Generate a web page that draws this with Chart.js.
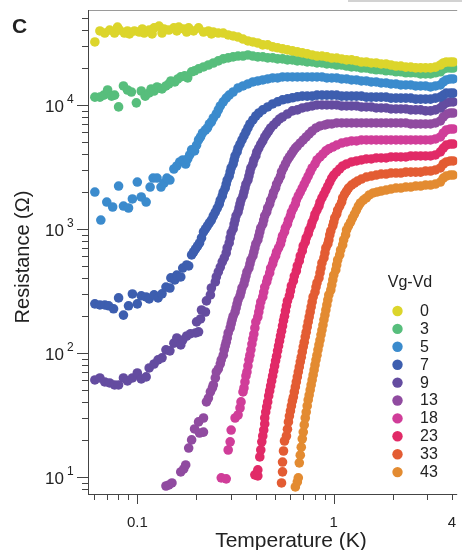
<!DOCTYPE html>
<html>
<head>
<meta charset="utf-8">
<title>Resistance vs Temperature</title>
<script src="https://cdn.jsdelivr.net/npm/chart.js@4.4.0/dist/chart.umd.min.js"></script>
<style>
  html, body { margin: 0; padding: 0; background: #fff; }
  #wrap { width: 462px; height: 550px; }
</style>
</head>
<body>
<div id="wrap"><canvas id="rtChart" width="462" height="550"></canvas></div>
<script>
// [temperature K, resistance Ohm], one list per Vg-Vd value
const s0 = [[0.0608,32200],[0.0645,39500],[0.0683,38000],[0.0723,40200],[0.0766,38000],[0.0793,42500],[0.0812,40200],[0.086,38000],[0.0891,39500],[0.0912,37400],[0.0966,39500],[0.1023,38700],[0.106,41000],[0.1084,38000],[0.1149,40200],[0.1189,37400],[0.1217,41800],[0.129,43300],[0.1336,38000],[0.1367,41000],[0.1448,40200],[0.1535,41800],[0.1589,39500],[0.1626,42500],[0.1723,41000],[0.1783,38700],[0.1826,41800],[0.1934,39500],[0.205,41800],[0.2172,38700],[0.2301,39500],[0.2385,37400],[0.2438,38700],[0.2584,38000],[0.2738,38000],[0.2901,36700],[0.3074,36000],[0.3257,35300],[0.3451,34000],[0.3657,32800],[0.3875,32200],[0.4106,31600],[0.4351,30500],[0.461,30500],[0.4885,29400],[0.5176,28900],[0.5485,28300],[0.5811,27800],[0.6158,27300],[0.6525,26800],[0.6914,26300],[0.7326,25800],[0.7762,25300],[0.8215,24800],[0.8707,24800],[0.9222,24400],[0.977,23900],[1.035,23900],[1.097,23500],[1.162,23100],[1.232,23100],[1.305,22700],[1.383,22200],[1.465,22200],[1.552,21800],[1.645,21800],[1.743,21400],[1.847,21400],[1.956,21000],[2.073,20600],[2.196,20600],[2.327,20200],[2.466,20200],[2.613,19900],[2.768,19900],[2.933,19900],[3.108,19900],[3.293,20200],[3.489,21000],[3.612,21800],[3.74,22200],[3.918,22200],[4.055,22200]];
const s3 = [[0.0608,11560],[0.0645,11560],[0.0675,12000],[0.0706,13200],[0.074,11780],[0.0766,12000],[0.0803,9640],[0.085,14230],[0.0891,13200],[0.0933,12720],[0.0989,10400],[0.1047,12960],[0.1097,11780],[0.1149,12490],[0.1176,13460],[0.1217,12960],[0.126,13970],[0.129,13700],[0.1336,13460],[0.1399,14230],[0.1448,14770],[0.1482,15610],[0.1553,15320],[0.1607,16200],[0.1664,16860],[0.1743,17180],[0.1805,16540],[0.189,18500],[0.1956,18850],[0.205,19560],[0.2172,20240],[0.2301,21000],[0.2438,21790],[0.2584,22680],[0.2738,23530],[0.2901,23970],[0.3074,24400],[0.3257,24800],[0.3451,24800],[0.3657,25300],[0.3875,24800],[0.4106,24400],[0.4351,24400],[0.461,23970],[0.4885,23970],[0.5176,23530],[0.5485,23530],[0.5811,23100],[0.6158,23100],[0.6525,22680],[0.6914,22680],[0.7326,22260],[0.7762,22260],[0.8215,21850],[0.8707,21850],[0.9222,21450],[0.977,21450],[1.035,21000],[1.097,21000],[1.162,20610],[1.232,20240],[1.305,20240],[1.383,19860],[1.465,19860],[1.552,19500],[1.645,19200],[1.743,19200],[1.847,18850],[1.956,18850],[2.073,18500],[2.196,18500],[2.327,18160],[2.466,18160],[2.613,18160],[2.768,17820],[2.933,17820],[3.108,17820],[3.293,18160],[3.489,18500],[3.612,19500],[3.74,19860],[3.918,19860],[4.055,19860]];
const s5 = [[0.0608,1985],[0.0652,1180],[0.0699,1648],[0.0749,1503],[0.0803,2218],[0.085,1531],[0.0902,1476],[0.0944,1746],[0.1,2390],[0.1047,1812],[0.1109,1648],[0.1162,2178],[0.1203,2573],[0.126,2573],[0.132,2178],[0.1367,2346],[0.1415,2573],[0.1465,2480],[0.1535,3045],[0.1589,3220],[0.1645,3469],[0.1703,3600],[0.1763,3341],[0.1805,3667],[0.1847,3950],[0.189,4340],[0.1956,4260],[0.2003,4750],[0.205,5220],[0.2098,5521],[0.2147,5946],[0.2223,6280],[0.2275,6527],[0.2328,7029],[0.2382,7295],[0.2438,7851],[0.2525,8456],[0.2584,9120],[0.2645,9816],[0.2738,10600],[0.2835,11350],[0.2935,12000],[0.3074,12720],[0.3257,13700],[0.3451,14230],[0.3657,14770],[0.3875,15320],[0.4106,15610],[0.4351,15900],[0.461,16200],[0.4885,16500],[0.5176,16500],[0.5485,16810],[0.5811,16810],[0.6158,16810],[0.6525,16810],[0.6914,16810],[0.7326,16810],[0.7762,16810],[0.8215,16810],[0.8707,16810],[0.9222,16500],[0.977,16500],[1.035,16500],[1.097,16200],[1.162,16200],[1.232,15900],[1.305,15900],[1.383,15610],[1.465,15610],[1.552,15320],[1.645,15320],[1.743,15040],[1.847,15040],[1.956,14770],[2.073,14770],[2.196,14500],[2.327,14500],[2.466,14500],[2.613,14230],[2.768,14230],[2.933,14230],[3.108,13970],[3.293,14230],[3.489,14500],[3.612,15320],[3.74,15900],[3.918,16200],[4.055,16200]];
const s7 = [[0.0608,249],[0.0645,244],[0.0683,244],[0.0715,240],[0.0757,227],[0.0803,278],[0.085,202],[0.0902,240],[0.0944,299],[0.1,249],[0.1047,289],[0.1109,283],[0.1149,273],[0.1217,294],[0.1275,278],[0.1336,300],[0.1399,340],[0.1465,334],[0.1482,403],[0.1553,388],[0.1589,425],[0.1664,410],[0.1703,484],[0.1784,512],[0.1826,503],[0.189,617],[0.1934,652],[0.1979,690],[0.2026,729],[0.2074,771],[0.2122,847],[0.2172,946],[0.2223,1000],[0.2275,1060],[0.2328,1121],[0.2382,1180],[0.2438,1276],[0.2495,1368],[0.2554,1474],[0.2614,1589],[0.2645,1710],[0.2707,1845],[0.2738,1985],[0.2802,2138],[0.2835,2302],[0.2868,2480],[0.2935,2670],[0.2969,2881],[0.3004,3103],[0.3074,3341],[0.311,3600],[0.3146,3877],[0.322,4182],[0.3257,4493],[0.3333,4839],[0.3411,5220],[0.3491,5625],[0.3573,6051],[0.3657,6527],[0.3743,7029],[0.3875,7570],[0.4012,8147],[0.4154,8614],[0.4351,9120],[0.461,9636],[0.4885,10190],[0.5176,10600],[0.5485,11000],[0.5811,11210],[0.6158,11420],[0.6525,11630],[0.6914,11780],[0.7326,11780],[0.7762,11780],[0.8215,12000],[0.8707,12000],[0.9222,12000],[0.977,12000],[1.035,12000],[1.097,11780],[1.162,11780],[1.232,11780],[1.305,11780],[1.383,11780],[1.465,11560],[1.552,11560],[1.645,11560],[1.743,11560],[1.847,11560],[1.956,11350],[2.073,11350],[2.196,11350],[2.327,11350],[2.466,11350],[2.613,11140],[2.768,11140],[2.933,11140],[3.108,11140],[3.293,11350],[3.489,11560],[3.612,12000],[3.74,12450],[3.918,12450],[4.055,12450]];
const s9 = [[0.0608,60.6],[0.0645,62.9],[0.0683,58.4],[0.0723,57.3],[0.0766,55.2],[0.0803,55.2],[0.085,62.9],[0.0891,59.5],[0.0944,62.9],[0.1,69],[0.1047,61.7],[0.1109,64.1],[0.1149,75.7],[0.1217,81.5],[0.1275,88],[0.1336,91.3],[0.1399,106],[0.1465,104],[0.1535,120],[0.1589,132],[0.1664,116],[0.1703,127],[0.1784,137],[0.1868,143],[0.1979,145],[0.205,148],[0.2003,178],[0.2098,188],[0.2122,222],[0.2223,214],[0.2249,263],[0.2355,294],[0.2382,334],[0.2495,374],[0.2525,410],[0.2584,450],[0.2645,493],[0.2707,542],[0.277,584],[0.2835,640],[0.2868,703],[0.2935,771],[0.2969,847],[0.3004,929],[0.3074,1000],[0.311,1096],[0.3146,1180],[0.3183,1276],[0.3257,1368],[0.3295,1476],[0.3333,1589],[0.3372,1710],[0.3451,1845],[0.3491,1985],[0.3532,2138],[0.3573,2302],[0.3657,2480],[0.37,2670],[0.3743,2881],[0.3786,3103],[0.3875,3341],[0.392,3600],[0.4012,3877],[0.4059,4182],[0.4154,4493],[0.4252,4839],[0.4351,5124],[0.4453,5521],[0.4557,5837],[0.4664,6164],[0.4773,6527],[0.4942,6900],[0.5117,7295],[0.5297,7712],[0.5485,7998],[0.5811,8456],[0.6158,8952],[0.6525,9120],[0.6914,9459],[0.7326,9636],[0.7762,9816],[0.8215,10000],[0.8707,10000],[0.9222,10000],[0.977,10000],[1.035,10000],[1.097,9816],[1.162,9816],[1.232,9816],[1.305,9816],[1.383,9636],[1.465,9636],[1.552,9636],[1.645,9459],[1.743,9459],[1.847,9459],[1.956,9285],[2.073,9285],[2.196,9285],[2.327,9285],[2.466,9120],[2.613,9120],[2.768,9120],[2.933,8952],[3.108,8952],[3.293,9120],[3.489,9459],[3.612,10000],[3.74,10380],[3.918,10570],[4.055,10570]];
const s13 = [[0.1399,8.46],[0.1448,8.62],[0.1501,8.95],[0.1664,10.98],[0.1723,11.61],[0.1763,12.5],[0.1826,17.12],[0.189,19.9],[0.1956,24.4],[0.2074,22.6],[0.205,27.8],[0.2172,29.9],[0.2172,23],[0.2249,40.3],[0.2301,43.3],[0.2355,48.5],[0.241,52.2],[0.2438,55.2],[0.2495,62.9],[0.2525,70.3],[0.2584,74.3],[0.2645,81.7],[0.2675,88],[0.2738,96],[0.277,106],[0.2802,114],[0.2835,122],[0.2868,132],[0.2901,145],[0.2969,159],[0.3004,172],[0.3039,185],[0.3074,198],[0.3146,214],[0.3183,231],[0.322,249],[0.3257,268],[0.3333,289],[0.3372,310],[0.3411,334],[0.3491,360],[0.3532,388],[0.3573,417],[0.3615,450],[0.37,484],[0.3743,522],[0.3786,562],[0.3875,606],[0.392,652],[0.3966,703],[0.4012,757],[0.4106,815],[0.4154,879],[0.4202,946],[0.4251,1022],[0.4351,1096],[0.4401,1180],[0.4453,1276],[0.4557,1368],[0.461,1476],[0.4718,1588],[0.4773,1710],[0.4885,1845],[0.4942,1985],[0.5057,2138],[0.5117,2303],[0.5236,2480],[0.5358,2670],[0.5421,2881],[0.5548,3103],[0.5677,3343],[0.5811,3600],[0.5946,3806],[0.6087,4024],[0.6229,4260],[0.6375,4493],[0.6525,4663],[0.6755,4938],[0.6994,5220],[0.7241,5521],[0.7495,5837],[0.7762,6164],[0.8121,6527],[0.8511,6773],[0.9016,6900],[0.9329,7029],[0.977,7029],[1.035,7161],[1.097,7161],[1.162,7161],[1.232,7161],[1.305,7161],[1.383,7161],[1.465,7161],[1.552,7161],[1.645,7161],[1.743,7161],[1.847,7161],[1.956,7161],[2.073,7161],[2.196,7161],[2.327,7161],[2.466,7029],[2.613,7029],[2.768,7029],[2.933,7029],[3.108,7029],[3.293,7161],[3.489,7430],[3.612,8000],[3.74,8456],[3.918,8614],[4.055,8614]];
const s18 = [[0.2675,9.84],[0.2835,9.66],[0.2901,16.5],[0.2969,19.2],[0.3004,23.9],[0.3146,29.9],[0.3257,31.6],[0.3333,36],[0.3372,40.3],[0.3451,48.5],[0.3491,52.2],[0.3532,58.4],[0.3573,65.3],[0.3615,70.3],[0.3657,78.5],[0.37,88],[0.3743,96],[0.3786,106],[0.3831,118],[0.3875,130],[0.392,142],[0.3966,159],[0.4012,178],[0.4106,195],[0.4154,214],[0.4202,235],[0.4251,258],[0.4351,283],[0.4401,310],[0.4453,340],[0.4557,374],[0.461,402],[0.4718,442],[0.4773,484],[0.4885,522],[0.4942,562],[0.5057,606],[0.5117,652],[0.5236,703],[0.5358,757],[0.5421,815],[0.5485,879],[0.5614,946],[0.5677,1022],[0.5811,1096],[0.5878,1180],[0.6017,1276],[0.6087,1368],[0.6229,1476],[0.6375,1588],[0.6449,1710],[0.66,1845],[0.6755,1985],[0.6914,2138],[0.7075,2303],[0.7241,2480],[0.7411,2670],[0.7585,2881],[0.7762,3103],[0.8027,3343],[0.8215,3600],[0.8511,3806],[0.8817,4024],[0.9116,4260],[0.9438,4421],[0.9887,4577],[1.035,4750],[1.097,4929],[1.162,5030],[1.232,5124],[1.305,5124],[1.383,5220],[1.465,5220],[1.552,5220],[1.645,5220],[1.743,5220],[1.847,5220],[1.956,5220],[2.073,5220],[2.196,5220],[2.327,5220],[2.466,5220],[2.613,5220],[2.768,5220],[2.933,5220],[3.108,5220],[3.293,5318],[3.489,5521],[3.612,5946],[3.74,6280],[3.918,6400],[4.055,6400]];
const s23 = [[0.3966,10.4],[0.4106,10.2],[0.4106,11.4],[0.4202,14.5],[0.4251,16.5],[0.4302,19.2],[0.4351,21.4],[0.4401,23.9],[0.4453,26.8],[0.4453,29.9],[0.4505,33.4],[0.4557,36.7],[0.461,40.3],[0.4664,45],[0.4718,49.4],[0.4773,54.2],[0.4828,59.5],[0.4885,65.3],[0.4942,71.7],[0.4999,78.5],[0.5057,86.4],[0.5117,94.2],[0.5176,104],[0.5236,114],[0.5297,125],[0.5358,137],[0.5421,150],[0.5485,165],[0.5548,182],[0.5614,198],[0.5677,218],[0.5744,240],[0.5811,263],[0.5946,289],[0.6017,316],[0.6087,347],[0.6229,381],[0.63,417],[0.6449,458],[0.6525,503],[0.6676,552],[0.6755,606],[0.6914,665],[0.6994,729],[0.716,785],[0.7241,847],[0.7411,912],[0.7496,982],[0.7672,1060],[0.7762,1137],[0.7943,1230],[0.8027,1318],[0.8215,1420],[0.8408,1531],[0.8511,1648],[0.8707,1778],[0.8911,1913],[0.9116,2060],[0.9329,2218],[0.9545,2390],[0.977,2573],[1,2720],[1.035,2881],[1.072,3046],[1.11,3220],[1.162,3341],[1.232,3469],[1.305,3534],[1.383,3600],[1.465,3667],[1.552,3667],[1.645,3736],[1.743,3736],[1.847,3736],[1.956,3806],[2.073,3806],[2.196,3806],[2.327,3806],[2.466,3877],[2.613,3877],[2.768,3877],[2.933,3877],[3.108,3877],[3.293,3950],[3.489,4182],[3.612,4493],[3.74,4750],[3.918,4839],[4.055,4839]];
const s33 = [[0.5421,8.95],[0.5485,11],[0.5485,13.2],[0.5548,16.2],[0.5614,19.5],[0.5744,21.4],[0.5811,24.3],[0.5878,27.8],[0.5946,31],[0.6017,34.1],[0.6087,37.4],[0.6158,41],[0.6229,44.1],[0.63,48.5],[0.6375,53.2],[0.6449,58.4],[0.6525,64.1],[0.66,70.3],[0.6676,77.1],[0.6755,84.8],[0.6833,92.5],[0.6914,102],[0.6994,112],[0.7075,122],[0.716,135],[0.7241,147],[0.7326,162],[0.7411,178],[0.7496,195],[0.7585,214],[0.7672,235],[0.7762,258],[0.7852,283],[0.8027,310],[0.8121,340],[0.8215,367],[0.8408,402],[0.8511,442],[0.861,484],[0.8707,532],[0.8911,584],[0.9016,640],[0.9116,703],[0.9329,757],[0.9438,815],[0.9545,895],[0.9658,964],[0.9887,1060],[1,1137],[1.012,1230],[1.035,1318],[1.047,1420],[1.072,1531],[1.097,1648],[1.11,1778],[1.136,1913],[1.162,2022],[1.189,2138],[1.232,2260],[1.275,2345],[1.32,2434],[1.383,2527],[1.465,2621],[1.552,2670],[1.645,2720],[1.743,2771],[1.847,2771],[1.956,2823],[2.073,2823],[2.196,2823],[2.327,2875],[2.466,2875],[2.613,2875],[2.768,2875],[2.933,2930],[3.108,2930],[3.293,2990],[3.489,3103],[3.612,3340],[3.74,3469],[3.918,3534],[4.055,3534]];
const s43 = [[0.6375,8.31],[0.6525,9.12],[0.66,9.84],[0.6676,13],[0.6755,15],[0.6833,17.4],[0.6914,20.3],[0.6994,23],[0.7075,26.3],[0.716,29.9],[0.7241,33.4],[0.7326,37.4],[0.7411,41.8],[0.7496,45.8],[0.7585,50.3],[0.7672,55.2],[0.7762,60.6],[0.7852,66.5],[0.7943,73],[0.8027,80],[0.8121,88],[0.8215,96],[0.831,106],[0.8408,116],[0.8511,127],[0.861,140],[0.8707,153],[0.881,168],[0.8911,185],[0.9016,202],[0.9116,222],[0.9222,244],[0.9329,268],[0.9438,294],[0.9658,322],[0.977,353],[0.9887,388],[1,425],[1.024,467],[1.035,512],[1.047,562],[1.072,617],[1.084,677],[1.11,743],[1.123,815],[1.149,895],[1.162,982],[1.189,1060],[1.218,1137],[1.246,1230],[1.275,1318],[1.305,1420],[1.335,1531],[1.367,1620],[1.415,1710],[1.465,1778],[1.517,1880],[1.588,1951],[1.664,1988],[1.743,2022],[1.847,2060],[1.956,2099],[2.073,2138],[2.196,2138],[2.327,2178],[2.466,2178],[2.613,2218],[2.768,2218],[2.933,2260],[3.108,2260],[3.293,2302],[3.489,2390],[3.612,2573],[3.74,2670],[3.918,2720],[4.055,2720]];

const vgLabels = ['0', '3', '5', '7', '9', '13', '18', '23', '33', '43'];
const seriesColors = ['#dcd52b', '#57be7c', '#3b8bcd', '#3d5eaf', '#644ca0', '#904ba0', '#d03d99', '#e12a67', '#e35c33', '#e38b31'];
const allSeries = [s0, s3, s5, s7, s9, s13, s18, s23, s33, s43];

// axis ticks
const xLabelTicks = [[0.1, '0.1'], [1, '1'], [4, '4']];
const xMajorTicks = [0.1, 1];
const xMinorTicks = [0.06, 0.07, 0.08, 0.09, 0.2, 0.3, 0.4, 0.5, 0.6, 0.7, 0.8, 0.9, 2, 3, 4];
const yMajorTicks = [10, 100, 1000, 10000];
const yExponents = ['1', '2', '3', '4'];
const yMinorTicks = [8, 9, 20, 30, 40, 50, 60, 70, 80, 90, 200, 300, 400, 500, 600, 700, 800, 900,
    2000, 3000, 4000, 5000, 6000, 7000, 8000, 9000, 20000, 30000, 40000, 50000];

const FONT = '"Liberation Sans", Arial, Helvetica, sans-serif';

document.addEventListener('DOMContentLoaded', function () {
    const canvas = document.getElementById('rtChart');

    function line(ctx, x1, y1, x2, y2) {
        ctx.beginPath();
        ctx.moveTo(x1, y1);
        ctx.lineTo(x2, y2);
        ctx.stroke();
    }

    // axes, ticks, labels, titles and the legend box are drawn here
    const decorations = {
        id: 'decorations',
        afterDraw(chart) {
            const ctx = chart.ctx;
            const area = chart.chartArea;
            const xs = chart.scales.x;
            const ys = chart.scales.y;
            ctx.save();

            ctx.fillStyle = '#d2d2d2';
            ctx.fillRect(348, 0, 114, 2);

            ctx.lineWidth = 1;
            ctx.strokeStyle = '#9a9a9a';
            line(ctx, area.left, area.top + 0.5, area.right, area.top + 0.5);
            ctx.strokeStyle = '#444';
            line(ctx, area.left + 0.5, area.top, area.left + 0.5, area.bottom + 1);
            line(ctx, area.left, area.bottom + 0.5, area.right, area.bottom + 0.5);

            xMinorTicks.forEach(v => {
                const px = Math.round(xs.getPixelForValue(v)) + 0.5;
                line(ctx, px, area.bottom, px, area.bottom + 6);
            });
            xMajorTicks.forEach(v => {
                const px = Math.round(xs.getPixelForValue(v)) + 0.5;
                line(ctx, px, area.bottom, px, area.bottom + 10);
            });
            yMinorTicks.forEach(v => {
                const py = Math.round(ys.getPixelForValue(v)) + 0.5;
                line(ctx, area.left - 6, py, area.left, py);
            });
            yMajorTicks.forEach(v => {
                const py = Math.round(ys.getPixelForValue(v)) + 0.5;
                line(ctx, area.left - 11, py, area.left, py);
            });

            ctx.fillStyle = '#222';
            ctx.textBaseline = 'middle';
            ctx.textAlign = 'center';
            ctx.font = '15px ' + FONT;
            xLabelTicks.forEach(([v, txt]) => {
                ctx.fillText(txt, xs.getPixelForValue(v), 523);
            });

            yMajorTicks.forEach((v, i) => {
                const py = ys.getPixelForValue(v);
                ctx.font = '17px ' + FONT;
                ctx.textAlign = 'right';
                ctx.fillText('10', 64, py + 2);
                ctx.font = '12px ' + FONT;
                ctx.textAlign = 'left';
                ctx.fillText(yExponents[i], 67, py - 5);
            });

            ctx.textAlign = 'center';
            ctx.font = '21px ' + FONT;
            ctx.fillText('Temperature (K)', 291, 541);

            ctx.save();
            ctx.translate(23, 257);
            ctx.rotate(-Math.PI / 2);
            ctx.font = '20px ' + FONT;
            ctx.fillText('Resistance (\u03A9)', 0, 0);
            ctx.restore();

            ctx.font = 'bold 21px ' + FONT;
            ctx.textAlign = 'left';
            ctx.fillText('C', 12, 27);

            // legend
            ctx.font = '16px ' + FONT;
            ctx.textAlign = 'center';
            ctx.textBaseline = 'alphabetic';
            ctx.fillText('Vg-Vd', 410, 287);
            ctx.textAlign = 'left';
            ctx.textBaseline = 'middle';
            vgLabels.forEach((lab, i) => {
                const cy = 311 + i * 17.9;
                ctx.fillStyle = seriesColors[i];
                ctx.beginPath();
                ctx.arc(397.5, cy, 5.2, 0, Math.PI * 2);
                ctx.fill();
                ctx.fillStyle = '#222';
                ctx.fillText(lab, 420, cy + 0.5);
            });

            ctx.restore();
        }
    };

    const datasets = allSeries.map((pts, i) => ({
        label: vgLabels[i],
        data: pts.map(([t, r]) => ({ x: t, y: r })),
        backgroundColor: seriesColors[i],
        borderWidth: 0,
        pointRadius: 4.8,
        pointHoverRadius: 4.8
    }));

    new Chart(canvas.getContext('2d'), {
        type: 'scatter',
        data: { datasets: datasets },
        options: {
            responsive: false,
            animation: false,
            events: [],
            layout: { padding: { top: 10, left: 0, right: 0, bottom: 0 } },
            plugins: { legend: { display: false }, tooltip: { enabled: false } },
            scales: {
                x: {
                    type: 'logarithmic',
                    min: 0.0561,
                    max: 4.25,
                    ticks: { display: false },
                    grid: { display: false },
                    border: { display: false },
                    afterFit: scale => { scale.height = 56; }
                },
                y: {
                    type: 'logarithmic',
                    min: 7.29,
                    max: 58300,
                    ticks: { display: false },
                    grid: { display: false },
                    border: { display: false },
                    afterFit: scale => { scale.width = 88; }
                }
            }
        },
        plugins: [decorations]
    });
});
</script>
</body>
</html>
